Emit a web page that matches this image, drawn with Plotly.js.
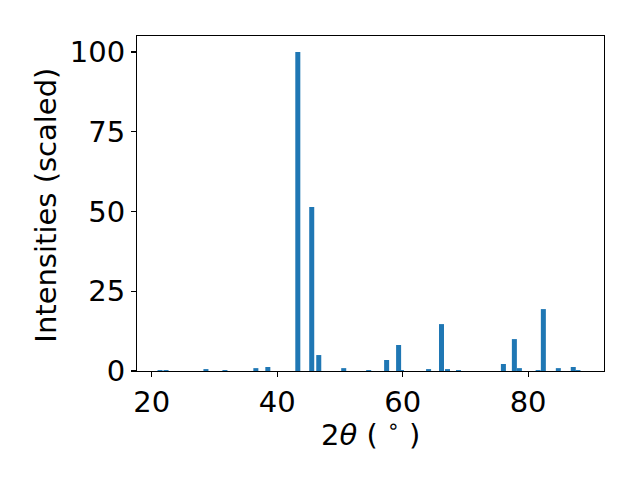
<!DOCTYPE html>
<html>
<head>
<meta charset="utf-8">
<script src="https://cdn.plot.ly/plotly-3.0.1.min.js"></script>
<style>html,body{margin:0;padding:0;background:#fff;}#chart{width:640px;height:480px;}</style>
</head>
<body>
<div id="chart"></div>
<script>
const twoTheta = [21.31, 22.27, 28.63, 31.66, 36.59, 38.50, 43.28, 45.50, 46.62, 50.60, 54.58, 57.44, 59.35, 59.80, 64.13, 66.19, 67.15, 68.90, 76.06, 77.81, 78.61, 81.60, 82.43, 84.82, 87.20, 87.95];
const intensities = [0.3, 0.3, 0.6, 0.3, 0.9, 1.25, 100, 51.4, 5.0, 0.9, 0.3, 3.45, 8.15, 0.3, 0.6, 14.7, 0.6, 0.3, 2.2, 10.0, 0.9, 0.3, 19.4, 0.9, 1.25, 0.3];
const xTicks = [20, 40, 60, 80];
const yTicks = [0, 25, 50, 75, 100];
const xTitle = '2<i>θ</i> ( <sup>∘</sup> )';
const yTitle = 'Intensities (scaled)';

const font = {family: 'DejaVu Sans', size: 29, color: '#000'};
Plotly.newPlot('chart', [{
  type: 'bar',
  x: twoTheta,
  y: intensities,
  width: 0.8,
  marker: {color: '#1f77b4', line: {width: 0}},
  hoverinfo: 'none'
}], {
  width: 640, height: 480,
  margin: {l: 136.5, r: 35.7, t: 36, b: 109, pad: 0},
  paper_bgcolor: '#fff', plot_bgcolor: '#fff',
  showlegend: false,
  font: font,
  xaxis: {
    range: [17.64, 92.1],
    tickvals: xTicks, ticktext: xTicks.map(String),
    ticks: 'outside', ticklen: 5, tickwidth: 1.1, tickcolor: '#000',
    showline: true, linecolor: '#000', linewidth: 1.1, mirror: true,
    showgrid: false, zeroline: false,
    tickfont: font
  },
  yaxis: {
    range: [0, 105],
    tickvals: yTicks, ticktext: yTicks.map(String),
    ticks: 'outside', ticklen: 5, tickwidth: 1.1, tickcolor: '#000',
    showline: true, linecolor: '#000', linewidth: 1.1, mirror: true,
    showgrid: false, zeroline: false,
    tickfont: font
  },
  annotations: [
    {text: xTitle, xref: 'paper', yref: 'paper', x: 0.5, y: -0.186,
     xanchor: 'center', yanchor: 'middle', showarrow: false, font: font},
    {text: yTitle, xref: 'paper', yref: 'paper', x: -0.1956, y: 0.4955,
     xanchor: 'center', yanchor: 'middle', textangle: -90, showarrow: false, font: font}
  ]
}, {displayModeBar: false, staticPlot: true});
</script>
</body>
</html>
